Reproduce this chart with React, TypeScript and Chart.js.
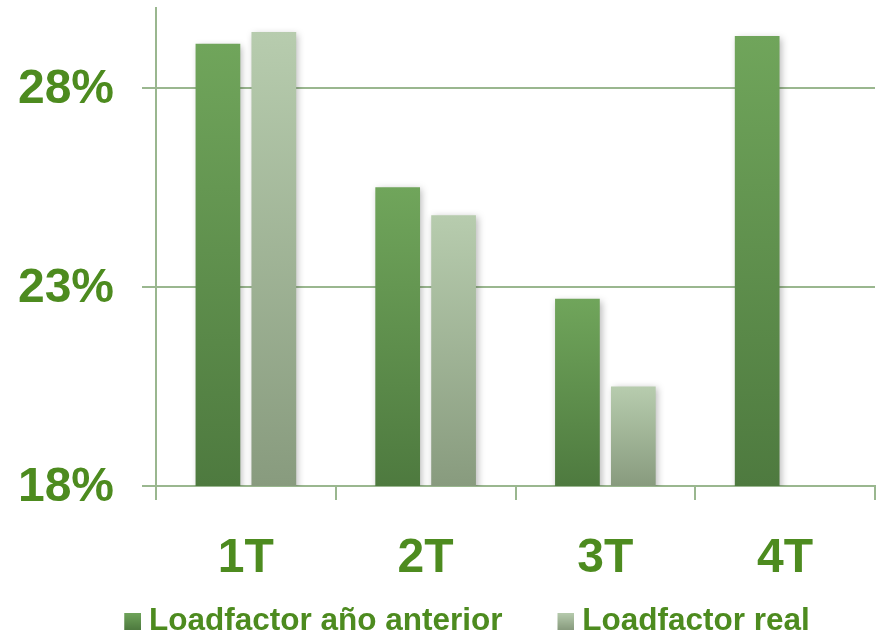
import React, { useEffect, useRef } from "react";
import { Chart, registerables } from "chart.js";

Chart.register(...registerables);

const categories = ["1T", "2T", "3T", "4T"];
const seriesNames = ["Loadfactor año anterior", "Loadfactor real"];
const anteriorValues: (number | null)[] = [29.1, 25.5, 22.7, 29.3];
const realValues: (number | null)[] = [29.4, 24.8, 20.5, null];
const yTickValues = [18, 23, 28];
const yMin = 18;
const yMax = 30;

const FONT = 'Arial, "Liberation Sans", sans-serif';
const TEXT_GREEN = "#4d8b1f";
const GRID = "#9ab78f";
const anteriorColors = ["#70a55b", "#4e7a3f"];
const realColors = ["#b7ccae", "#889b7e"];

function barGradient(colors: string[]) {
  return (ctx: any) => {
    const chart = ctx.chart;
    const scales = chart.scales;
    if (!chart.chartArea || !scales || !scales.y || ctx.raw == null) return colors[0];
    const yTop = scales.y.getPixelForValue(ctx.raw);
    const yBot = scales.y.getPixelForValue(yMin);
    if (!isFinite(yTop) || !isFinite(yBot) || yTop === yBot) return colors[0];
    const g = chart.ctx.createLinearGradient(0, yTop, 0, yBot);
    g.addColorStop(0, colors[0]);
    g.addColorStop(1, colors[1]);
    return g;
  };
}

function legendImage(colors: string[]) {
  const c = document.createElement("canvas");
  c.width = 80;
  c.height = 17;
  const x = c.getContext("2d")!;
  const g = x.createLinearGradient(0, 0, 0, 17);
  g.addColorStop(0, colors[0]);
  g.addColorStop(1, colors[1]);
  x.fillStyle = g;
  x.fillRect(63, 0, 17, 17);
  return c;
}

const shadowPlugin = {
  id: "barShadow",
  beforeDatasetsDraw(chart: any) {
    const c = chart.ctx;
    c.save();
    c.shadowColor = "rgba(0,0,0,0.28)";
    c.shadowBlur = 7;
    c.shadowOffsetX = 2;
    c.shadowOffsetY = 2;
  },
  afterDatasetsDraw(chart: any) {
    chart.ctx.restore();
  },
};

export default function App() {
  const ref = useRef<HTMLCanvasElement | null>(null);

  useEffect(() => {
    if (!ref.current) return;
    const imgs = [legendImage(anteriorColors), legendImage(realColors)];
    const chart = new Chart(ref.current, {
      type: "bar",
      data: {
        labels: categories,
        datasets: [
          {
            label: seriesNames[0],
            data: anteriorValues,
            backgroundColor: barGradient(anteriorColors),
            barPercentage: 0.8,
            categoryPercentage: 0.622,
          },
          {
            label: seriesNames[1],
            data: realValues,
            backgroundColor: barGradient(realColors),
            barPercentage: 0.8,
            categoryPercentage: 0.622,
          },
        ],
      },
      options: {
        animation: false,
        responsive: false,
        maintainAspectRatio: false,
        layout: { padding: { left: 4, top: 8, right: 1, bottom: -10 } },
        plugins: {
          tooltip: { enabled: false },
          legend: {
            position: "bottom",
            align: "center",
            labels: {
              usePointStyle: true,
              pointStyleWidth: 64,
              padding: 0,
              color: TEXT_GREEN,
              font: { family: FONT, size: 31.5, weight: "bold" },
              generateLabels: (ch: any) =>
                Chart.defaults.plugins.legend.labels
                  .generateLabels(ch)
                  .map((l: any, i: number) => ({ ...l, pointStyle: imgs[i] })),
            },
          },
        },
        scales: {
          x: {
            grid: {
              display: true,
              drawOnChartArea: false,
              drawTicks: true,
              tickLength: 14,
              color: GRID,
              lineWidth: 2,
            },
            border: { display: true, color: GRID, width: 2 },
            ticks: {
              color: TEXT_GREEN,
              padding: 30,
              font: { family: FONT, size: 48, weight: "bold" },
              maxRotation: 0,
            },
            afterFit: (s: any) => {
              s.height = 119.5;
              s.paddingLeft = 0;
              s.paddingRight = 0;
            },
          },
          y: {
            min: yMin,
            max: yMax,
            afterBuildTicks: (s: any) => {
              s.ticks = yTickValues.map((v) => ({ value: v }));
            },
            grid: {
              color: GRID,
              lineWidth: 2,
              tickLength: 14,
            },
            border: { display: true, color: GRID, width: 2 },
            ticks: {
              color: TEXT_GREEN,
              padding: 28,
              labelOffset: 2,
              font: { family: FONT, size: 48, weight: "bold" },
              callback: (v: any) => `${v}%`,
            },
            afterFit: (s: any) => {
              s.width = 152;
              s.paddingTop = 0;
              s.paddingBottom = 0;
            },
          },
        },
      },
      plugins: [shadowPlugin],
    } as any);
    return () => chart.destroy();
  }, []);

  return (
    <div style={{ position: "fixed", left: 0, top: 0, width: 876, height: 637, background: "#fff" }}>
      <canvas ref={ref} width={876} height={637} style={{ width: 876, height: 637, display: "block" }} />
    </div>
  );
}
